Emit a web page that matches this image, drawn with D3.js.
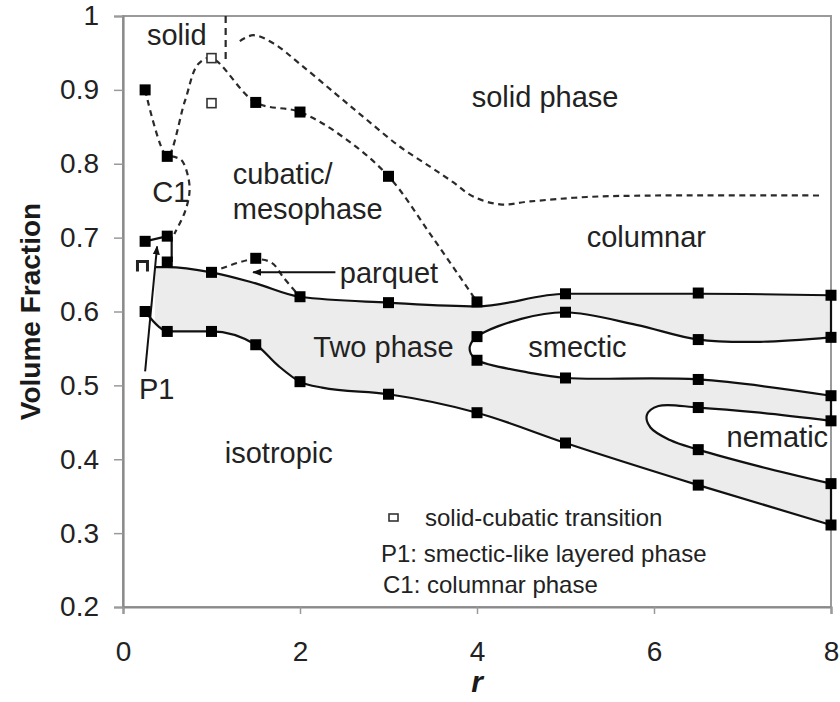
<!DOCTYPE html>
<html><head><meta charset="utf-8">
<script src="https://cdn.jsdelivr.net/npm/d3@7"></script>
<style>
body{margin:0;background:#fff;}
text{font-family:"Liberation Sans",Arial,Helvetica,sans-serif;}
</style>
</head><body>
<svg id="chart" width="840" height="702"></svg>
<script>
// ---------- data ----------
const xTicks = [0, 2, 4, 6, 8];
const xTickLabels = ["0", "2", "4", "6", "8"];
const yTicks = [0.2, 0.3, 0.4, 0.5, 0.6, 0.7, 0.8, 0.9, 1.0];
const yTickLabels = ["0.2", "0.3", "0.4", "0.5", "0.6", "0.7", "0.8", "0.9", "1"];

// two-phase region boundaries (solid lines)
const upperBoundary = [[0.36,0.660],[0.5,0.660],[1,0.653],[1.5,0.638],[2,0.620],[3,0.612],[4,0.607],[5,0.624],[6.5,0.624],[8,0.622]];
const lowerBoundary = [[0.25,0.600],[0.4,0.580],[0.5,0.573],[1,0.573],[1.5,0.555],[1.75,0.527],[2,0.505],[2.25,0.497],[3,0.488],[4,0.463],[5,0.422],[6.5,0.365],[8,0.311]];
const smecticLoop = [[8,0.565],[7.2,0.559],[6.5,0.562],[5.8,0.582],[5,0.599],[4.5,0.590],[4,0.566],[3.92,0.553],[3.93,0.543],[4,0.534],[4.6,0.517],[5,0.510],[6.5,0.508],[8,0.486]];
const nematicLoop = [[8,0.452],[7.2,0.463],[6.5,0.470],[6.05,0.472],[5.92,0.460],[5.96,0.443],[6.18,0.426],[6.5,0.413],[7.2,0.390],[8,0.367]];
const rightEdgeTop = [[8,0.622],[8,0.565]];
const rightEdgeMid = [[8,0.486],[8,0.452]];
const rightEdgeBottom = [[8,0.367],[8,0.311]];
const p1Connector = [[0.25,0.695],[0.5,0.702],[0.55,0.700],[0.55,0.667]];

// dashed phase boundaries
const solidCubaticCurve = [[0.25,0.900],[0.5,0.810],[0.7,0.885],[0.85,0.935],[1,0.943],[1.5,0.883],[2,0.870],[2.5,0.835],[3,0.783],[3.5,0.700],[4,0.613]];
const c1Loop = [[0.55,0.810],[0.66,0.805],[0.74,0.780],[0.75,0.760],[0.70,0.735],[0.58,0.705]];
const solidVertical = [[1.16,1.0],[1.16,0.935]];
const solidColumnarCurve = [[1.32,0.966],[1.47,0.974],[1.7,0.963],[2,0.935],[2.4,0.895],[2.75,0.860],[3.13,0.823],[3.47,0.796],[3.73,0.775],[3.95,0.756],[4.26,0.745],[4.6,0.749],[5.24,0.755],[6,0.757],[7.9,0.757]];
const parquetCurve = [[1,0.653],[1.3,0.666],[1.5,0.671],[1.68,0.666],[1.82,0.645],[2,0.620]];

// simulation points (filled squares)
const filledPoints = [
  [0.25,0.900],[0.5,0.810],[1.5,0.883],[2,0.870],[3,0.783],[4,0.613],
  [0.25,0.695],[0.5,0.702],[0.5,0.667],[0.25,0.600],[0.5,0.573],[1,0.573],[1.5,0.555],[2,0.505],[3,0.488],[4,0.463],[5,0.422],[6.5,0.365],[8,0.311],
  [1,0.653],[1.5,0.672],[2,0.620],[3,0.612],
  [5,0.624],[6.5,0.625],[8,0.622],
  [8,0.565],[6.5,0.562],[5,0.599],[4,0.566],[4,0.534],[5,0.510],[6.5,0.508],[8,0.486],
  [6.5,0.470],[8,0.452],[6.5,0.413],[8,0.367]
];
const partialPoints = [[0.22,0.661]];
// solid-cubatic transition (open squares)
const openPoints = [[1,0.943],[1,0.882]];

// arrows
const p1Arrow = [[0.25,0.519],[0.385,0.688]];
const parquetArrow = [[2.4,0.653],[1.47,0.653]];

// region labels
const regionLabels = [
  {t:"solid", r:0.27, v:0.961},
  {t:"solid phase", r:3.94, v:0.877},
  {t:"cubatic/", r:1.24, v:0.772},
  {t:"mesophase", r:1.24, v:0.725},
  {t:"C1", r:0.33, v:0.748},
  {t:"columnar", r:5.24, v:0.687},
  {t:"parquet", r:2.45, v:0.638},
  {t:"Two phase", r:2.15, v:0.538},
  {t:"smectic", r:4.58, v:0.538},
  {t:"nematic", r:6.82, v:0.416},
  {t:"isotropic", r:1.15, v:0.395},
  {t:"P1", r:0.18, v:0.481}
];
const legendItems = ["solid-cubatic transition", "P1: smectic-like layered phase", "C1: columnar phase"];

// ---------- drawing ----------
const svg = d3.select("#chart");
const x = d3.scaleLinear().domain([0, 8]).range([123, 831]);
const y = d3.scaleLinear().domain([0.2, 1.0]).range([607, 16]);

const TXT = "#222";
const LINE = "#111";
const DASH = "#2a2a2a";

const defs = svg.append("defs");
defs.append("marker").attr("id","arrow").attr("viewBox","0 0 10 10")
  .attr("refX",9).attr("refY",5).attr("markerWidth",9).attr("markerHeight",9)
  .attr("markerUnits","userSpaceOnUse").attr("orient","auto")
  .append("path").attr("d","M0,1 L10,5 L0,9 Z").attr("fill",LINE);

// two-phase shading
const areaUpper = d3.area().curve(d3.curveMonotoneX).x(d=>x(d[0])).y0(y(0.2)).y1(d=>y(d[1]));
svg.append("path").attr("d", areaUpper(upperBoundary)).attr("fill", "#ececec");
svg.append("path").attr("d", areaUpper(lowerBoundary)).attr("fill", "#fff");

const lineMono = d3.line().curve(d3.curveMonotoneX).x(d=>x(d[0])).y(d=>y(d[1]));
const lineCR = d3.line().curve(d3.curveCatmullRom.alpha(0.5)).x(d=>x(d[0])).y(d=>y(d[1]));
const lineLin = d3.line().x(d=>x(d[0])).y(d=>y(d[1]));

svg.append("path").attr("d", lineCR(smecticLoop) + "Z").attr("fill", "#fff");
svg.append("path").attr("d", lineCR(nematicLoop) + "Z").attr("fill", "#fff");

// frame
svg.append("rect").attr("x", x(0)).attr("y", y(1)).attr("width", x(8)-x(0)).attr("height", y(0.2)-y(1))
  .attr("fill","none").attr("stroke","#9a9a9a").attr("stroke-width",2);

// axes
const yAxis = d3.axisLeft(y).tickValues(yTicks).tickFormat((d,i)=>yTickLabels[i]).tickSize(9).tickPadding(15);
const gy = svg.append("g").attr("transform", `translate(${x(0)},0)`).call(yAxis);
const xAxis = d3.axisBottom(x).tickValues(xTicks).tickFormat((d,i)=>xTickLabels[i]).tickSize(7).tickPadding(27);
const gx = svg.append("g").attr("transform", `translate(0,${y(0.2)})`).call(xAxis);
[gx, gy].forEach(g => {
  g.select(".domain").attr("stroke","#8a8a8a").attr("stroke-width",2.2);
  g.selectAll(".tick line").attr("stroke","#9a9a9a").attr("stroke-width",1.5);
  g.selectAll(".tick text").attr("fill",TXT).style("font-size","28px").style("font-family","'Liberation Sans',Arial,sans-serif");
});

// dashed boundaries
[solidCubaticCurve, c1Loop, solidColumnarCurve, parquetCurve].forEach(p => {
  svg.append("path").attr("d", lineCR(p)).attr("fill","none").attr("stroke",DASH)
    .attr("stroke-width",2.2).attr("stroke-dasharray","6,4.5");
});
svg.append("path").attr("d", lineLin(solidVertical)).attr("fill","none").attr("stroke",DASH)
  .attr("stroke-width",2.2).attr("stroke-dasharray","7,5");

// solid boundaries
[upperBoundary, lowerBoundary].forEach(p => {
  svg.append("path").attr("d", lineMono(p)).attr("fill","none").attr("stroke",LINE).attr("stroke-width",2.2);
});
[smecticLoop, nematicLoop].forEach(p => {
  svg.append("path").attr("d", lineCR(p)).attr("fill","none").attr("stroke",LINE).attr("stroke-width",2.2);
});
[rightEdgeTop, rightEdgeMid, rightEdgeBottom, p1Connector].forEach(p => {
  svg.append("path").attr("d", lineLin(p)).attr("fill","none").attr("stroke",LINE).attr("stroke-width",2.2);
});

// arrows
[p1Arrow, parquetArrow].forEach(p => {
  svg.append("line").attr("x1", x(p[0][0])).attr("y1", y(p[0][1]))
    .attr("x2", x(p[1][0])).attr("y2", y(p[1][1]))
    .attr("stroke", LINE).attr("stroke-width", 2).attr("marker-end","url(#arrow)");
});

// markers
const S = 11;
svg.selectAll("rect.pt").data(filledPoints).join("rect").attr("class","pt")
  .attr("x", d=>x(d[0])-S/2).attr("y", d=>y(d[1])-S/2).attr("width",S).attr("height",S)
  .attr("fill","#000");
svg.selectAll("path.pp").data(partialPoints).join("path").attr("class","pp")
  .attr("d", d=>`M${x(d[0])-5},${y(d[1])+5}V${y(d[1])-5}H${x(d[0])+5}V${y(d[1])+5}`)
  .attr("fill","none").attr("stroke","#222").attr("stroke-width",3);
const O = 9;
svg.selectAll("rect.op").data(openPoints).join("rect").attr("class","op")
  .attr("x", d=>x(d[0])-O/2).attr("y", d=>y(d[1])-O/2).attr("width",O).attr("height",O)
  .attr("fill","#fff").attr("stroke","#333").attr("stroke-width",1.6);

// region labels
svg.selectAll("text.lbl").data(regionLabels).join("text").attr("class","lbl")
  .attr("x", d=>x(d.r)).attr("y", d=>y(d.v)).text(d=>d.t)
  .attr("fill",TXT).style("font-size","29px");

// legend
const lg = svg.append("g").attr("transform","translate(381,0)");
lg.append("rect").attr("x",8).attr("y",514).attr("width",9).attr("height",7)
  .attr("fill","#fff").attr("stroke","#333").attr("stroke-width",1.6);
lg.append("text").attr("x",44).attr("y",526).text(legendItems[0]).attr("fill",TXT).style("font-size","24px");
lg.append("text").attr("x",0).attr("y",562).text(legendItems[1]).attr("fill",TXT).style("font-size","24px");
lg.append("text").attr("x",2).attr("y",593).text(legendItems[2]).attr("fill",TXT).style("font-size","24px");

// axis titles
svg.append("text").attr("transform",`translate(40,${(y(0.2)+y(1))/2}) rotate(-90)`)
  .attr("text-anchor","middle").text("Volume Fraction")
  .attr("fill","#1a1a1a").style("font-size","28px").style("font-weight","bold");
svg.append("text").attr("x",(x(0)+x(8))/2).attr("y",692).attr("text-anchor","middle")
  .text("r").attr("fill","#1a1a1a").style("font-size","30px").style("font-weight","bold").style("font-style","italic");
</script>
</body></html>
